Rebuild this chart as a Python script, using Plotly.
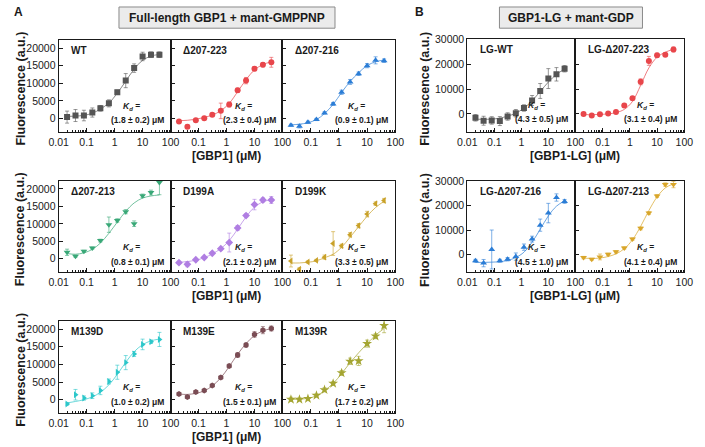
import plotly.graph_objects as go

# --- Data ---
CONC = [0.02, 0.04, 0.08, 0.16, 0.31, 0.625, 1.25, 2.5, 5, 10, 20, 40]

# Panel A: full-length GBP1 + mant-GMPPNP
WT_Y = [400, 850, 850, 1700, 2900, 4300, 7450, 10750, 14300, 17600, 18100, 18100]
WT_ERR = [1700, 1700, 1500, 1300, 800, 1000, 600, 2000, 1200, 1200, 800, 800]
WT_FIT = [600, 700, 900, 1500, 2700, 4400, 7200, 10600, 14000, 16500, 17700, 18200]

D223_Y = [-850, -2350, -470, 100, 1040, 2170, 3960, 8000, 10750, 14150, 15280, 15950]
D223_ERR = [500, 500, 400, 400, 400, 2200, 700, 600, 900, 600, 600, 1400]
D223_FIT = [-600, -500, -200, 300, 1000, 2200, 4300, 7600, 11000, 13800, 15300, 16100]

D216_Y = [-1900, -2170, -1040, -280, 1600, 4150, 7450, 10380, 12700, 15000, 16500, 16400]
D216_ERR = [300, 500, 300, 300, 300, 400, 600, 700, 500, 600, 1000, 500]
D216_FIT = [-1800, -1600, -1200, -300, 1400, 4000, 7400, 10500, 13000, 15000, 16100, 16600]

D213_Y = [1860, 740, 2140, 3070, 5210, 9770, 10980, 13490, 10050, 18050, 18980, 21860]
D213_ERR = [900, 300, 300, 300, 400, 2200, 500, 600, 800, 500, 700, 3500]
D213_FIT = [1500, 1300, 1700, 2700, 4500, 7300, 10500, 13600, 16000, 17400, 18000, 18300]

D199A_Y = [-1120, -1580, -280, 370, 1580, 2880, 4650, 8840, 12370, 15530, 16840, 16840]
D199A_ERR = [400, 700, 300, 300, 400, 400, 2700, 700, 500, 1500, 600, 1000]
D199A_FIT = [-1000, -800, -400, 300, 1400, 2900, 5200, 8500, 12000, 14800, 16300, 17000]

D199K_Y = [-650, -2980, -930, -470, 470, 4370, 3700, 6900, 9500, 12800, 15800, 16700]
D199K_ERR = [1700, 400, 300, 300, 600, 3400, 500, 600, 600, 800, 500, 600]
D199K_FIT = [-1200, -1200, -1000, -600, 300, 1300, 3300, 6200, 9200, 12200, 14700, 16500]

M139D_Y = [-1220, 1410, 470, 1130, 2630, 5160, 7790, 10520, 12960, 15680, 16430, 17090]
M139D_ERR = [300, 1500, 600, 800, 1200, 700, 2000, 2000, 700, 1500, 500, 2000]
M139D_FIT = [-900, -500, 0, 800, 2100, 4200, 7200, 10600, 13600, 15600, 16700, 17200]

M139E_Y = [1600, 750, 2160, 2630, 4040, 6290, 9580, 12680, 15490, 18500, 19720, 20190]
M139E_ERR = [300, 300, 400, 300, 300, 400, 500, 700, 600, 800, 1000, 700]
M139E_FIT = [1600, 1500, 1800, 2500, 3900, 6200, 9400, 12900, 15900, 18200, 19500, 20200]

M139R_Y = [90, 90, 280, 1220, 2800, 4600, 7600, 10900, 11000, 15900, 18000, 21000]
M139R_ERR = [600, 400, 300, 400, 600, 500, 700, 900, 1300, 1000, 700, 2000]
M139R_FIT = [100, 150, 400, 1100, 2600, 4600, 7400, 10500, 13300, 15900, 18300, 20200]

# Panel B: GBP1-LG + mant-GDP
LGWT_Y = [-1580, -2760, -2630, -2890, -1050, 260, 2370, 5390, 9210, 14210, 15920, 18160]
LGWT_ERR = [1300, 1800, 1500, 1800, 1500, 1500, 1300, 2000, 3000, 4000, 2700, 1300]
LGWT_FIT = [-2100, -2200, -2100, -1700, -900, 300, 2300, 5300, 9000, 12800, 15900, 18000]

LG223_Y = [0, -660, -130, 130, 790, 3420, 6320, 12890, 21320, 23550, 23820, 25920]
LG223_ERR = [400, 400, 400, 400, 400, 600, 600, 1200, 1800, 800, 500, 1000]
LG223_FIT = [-300, -300, -200, 0, 500, 1800, 5000, 11500, 18500, 22800, 24800, 26000]

LG216_Y = [-2640, -3600, 2000, -2640, -2000, -920, 2960, 6280, 12000, 16960, 23360, 21760]
LG216_ERR = [600, 1500, 8000, 600, 700, 1500, 1300, 1200, 2500, 4000, 1500, 800]
LG216_FIT = [-3300, -3300, -3200, -3000, -2500, -1300, 900, 5000, 10300, 15800, 19800, 22000]

LG213_Y = [-1330, -2000, -1060, 0, 1060, 2660, 6280, 10680, 16960, 24000, 28680, 28680]
LG213_ERR = [500, 400, 1200, 500, 500, 500, 500, 600, 600, 600, 700, 1300]
LG213_FIT = [-1500, -1700, -1500, -900, 200, 2300, 6000, 11500, 18000, 23600, 27300, 29000]

NAMES = ["WT", "Δ207-223", "Δ207-216", "Δ207-213", "D199A", "D199K",
         "M139D", "M139E", "M139R",
         "LG-WT", "LG-Δ207-223", "LG-Δ207-216", "LG-Δ207-213"]
KD_TEXT = ["(1.8 ± 0.2) μM", "(2.3 ± 0.4) μM", "(0.9 ± 0.1) μM", "(0.8 ± 0.1) μM",
           "(2.1 ± 0.2) μM", "(3.3 ± 0.5) μM", "(1.0 ± 0.2) μM", "(1.5 ± 0.1) μM",
           "(1.7 ± 0.2) μM", "(4.3 ± 0.5) μM", "(3.1 ± 0.4) μM", "(4.5 ± 1.0) μM",
           "(4.1 ± 0.4) μM"]
Y_DATA = [WT_Y, D223_Y, D216_Y, D213_Y, D199A_Y, D199K_Y, M139D_Y, M139E_Y, M139R_Y,
          LGWT_Y, LG223_Y, LG216_Y, LG213_Y]
ERR_DATA = [WT_ERR, D223_ERR, D216_ERR, D213_ERR, D199A_ERR, D199K_ERR, M139D_ERR,
            M139E_ERR, M139R_ERR, LGWT_ERR, LG223_ERR, LG216_ERR, LG213_ERR]
FIT_DATA = [WT_FIT, D223_FIT, D216_FIT, D213_FIT, D199A_FIT, D199K_FIT, M139D_FIT,
            M139E_FIT, M139R_FIT, LGWT_FIT, LG223_FIT, LG216_FIT, LG213_FIT]

# --- Styles ---
COLORS = ["#555555", "#e8464b", "#2b7dd6", "#39a877", "#b07ee2", "#c9a128",
          "#2cc7ca", "#7a4c54", "#a4a532", "#555555", "#e8464b", "#2b7dd6", "#d9a62a"]
SYMBOLS = ["square", "circle", "triangle-up", "triangle-down", "diamond", "triangle-left",
           "triangle-right", "hexagon", "star", "square", "circle", "triangle-up",
           "triangle-down"]

W, H = 705, 447
A_COLS = [(50, 165), (165, 280), (280, 396)]
A_ROWS = [(34, 128), (177, 270), (319, 413)]
B_COLS = [(470, 581), (581, 693)]
B_ROWS = [(33, 128), (177, 270)]

# cells: (col px, row px, group, first column?)
cells = []
for r in A_ROWS:
    for ci, c in enumerate(A_COLS):
        cells.append((c, r, "A", ci == 0))
for r in B_ROWS:
    for ci, c in enumerate(B_COLS):
        cells.append((c, r, "B", ci == 0))

FONT = "Arial, 'Liberation Sans', Helvetica, sans-serif"
INK = "#1a1a1a"


def rgba(hx, a):
    hx = hx.lstrip("#")
    r, g, b = int(hx[0:2], 16), int(hx[2:4], 16), int(hx[4:6], 16)
    return f"rgba({r},{g},{b},{a})"


def fx(x):
    return x / W


def fy(y):
    return 1 - y / H


minor_vals = [m * 10 ** e for e in range(-2, 2) for m in range(2, 10)]

fig = go.Figure()
layout = dict(
    width=W, height=H,
    margin=dict(l=0, r=0, t=0, b=0),
    paper_bgcolor="white", plot_bgcolor="white",
    showlegend=False,
    font=dict(family=FONT, color=INK),
)
annotations = []
shapes = []

for i, ((x0, x1), (y0, y1), grp, first) in enumerate(cells):
    n = i + 1
    xa = "x" if n == 1 else f"x{n}"
    ya = "y" if n == 1 else f"y{n}"
    col = COLORS[i]

    fig.add_trace(go.Scatter(
        x=CONC, y=FIT_DATA[i], mode="lines", line_shape="spline",
        line=dict(color=rgba(col, 0.7), width=1), xaxis=xa, yaxis=ya,
        hoverinfo="skip"))
    fig.add_trace(go.Scatter(
        x=CONC, y=Y_DATA[i], mode="markers", xaxis=xa, yaxis=ya,
        marker=dict(symbol=SYMBOLS[i], color=col, size=6 if SYMBOLS[i] != "star" else 7.5,
                    line=dict(width=0)),
        error_y=dict(type="data", array=ERR_DATA[i], color=rgba(col, 0.6),
                     thickness=1, width=2)))

    if first:
        tv, tt = [0.01, 0.1, 1, 10, 100], ["0.01", "0.1", "1", "10", "100"]
    else:
        tv, tt = [0.1, 1, 10, 100], ["0.1", "1", "10", "100"]
    layout["xaxis" if n == 1 else f"xaxis{n}"] = dict(
        domain=[fx(x0), fx(x1)], anchor=ya, type="log", range=[-2, 2],
        tickmode="array", tickvals=tv, ticktext=tt,
        ticks="inside", ticklen=4, tickcolor=INK, tickwidth=1,
        tickfont=dict(size=10.5, color=INK),
        minor=dict(tickmode="array", tickvals=minor_vals, ticks="inside",
                   ticklen=2, tickcolor=INK, tickwidth=1),
        showline=True, linecolor=INK, linewidth=1, mirror=True,
        showgrid=False, zeroline=False, fixedrange=True)
    if grp == "A":
        yr, dt = [-3900, 22400], 5000
    else:
        yr, dt = [-7400, 30300], 10000
    layout["yaxis" if n == 1 else f"yaxis{n}"] = dict(
        domain=[fy(y1), fy(y0)], anchor=xa, range=yr, dtick=dt, tick0=0,
        tickformat="d",
        ticks="inside", ticklen=4, tickcolor=INK, tickwidth=1,
        showticklabels=first, tickfont=dict(size=10.5, color=INK),
        showline=True, linecolor=INK, linewidth=1, mirror=True,
        showgrid=False, zeroline=False, fixedrange=True)

    # panel label, top-left
    annotations.append(dict(
        text=f"<b>{NAMES[i]}</b>", xref="paper", yref="paper",
        x=fx(x0 + 11), y=fy(y0 + 11), xanchor="left", yanchor="middle",
        showarrow=False, font=dict(size=10, color=INK)))
    # Kd, bottom-right
    annotations.append(dict(
        text="<b><i>K<sub>d</sub></i> =</b>", xref="paper", yref="paper",
        x=fx(x1 - 40), y=fy(y0 + 68), xanchor="center", yanchor="middle",
        showarrow=False, font=dict(size=8.5, color=INK)))
    annotations.append(dict(
        text=f"<b>{KD_TEXT[i]}</b>", xref="paper", yref="paper",
        x=fx(x1 - 5), y=fy(y0 + 82), xanchor="right", yanchor="middle",
        showarrow=False, font=dict(size=8.5, color=INK)))

# axis titles
for (y0, y1) in A_ROWS:
    annotations.append(dict(
        text="<b>Fluorescence (a.u.)</b>", xref="paper", yref="paper",
        x=fx(11), y=fy((y0 + y1) / 2 + 3), textangle=-90, showarrow=False,
        xanchor="center", yanchor="middle", font=dict(size=12.5, color=INK)))
    annotations.append(dict(
        text="<b>[GBP1] (μM)</b>", xref="paper", yref="paper",
        x=fx(223), y=fy(y1 + 24), showarrow=False,
        xanchor="center", yanchor="middle", font=dict(size=12, color=INK)))
for (y0, y1) in B_ROWS:
    annotations.append(dict(
        text="<b>Fluorescence (a.u.)</b>", xref="paper", yref="paper",
        x=fx(427), y=fy((y0 + y1) / 2 + 3), textangle=-90, showarrow=False,
        xanchor="center", yanchor="middle", font=dict(size=12.5, color=INK)))
    annotations.append(dict(
        text="<b>[GBP1-LG] (μM)</b>", xref="paper", yref="paper",
        x=fx(581), y=fy(y1 + 24), showarrow=False,
        xanchor="center", yanchor="middle", font=dict(size=12, color=INK)))

# boxed headers and panel letters
for (bx0, bx1, text) in [(112, 334, "Full-length GBP1 + mant-GMPPNP"),
                         (503, 650, "GBP1-LG + mant-GDP")]:
    shapes.append(dict(type="rect", xref="paper", yref="paper",
                       x0=fx(bx0), x1=fx(bx1), y0=fy(22.5), y1=fy(1),
                       fillcolor="#ebebeb", line=dict(color="#8a8a8a", width=1)))
    annotations.append(dict(
        text=f"<b>{text}</b>", xref="paper", yref="paper",
        x=fx((bx0 + bx1) / 2), y=fy(12), showarrow=False,
        xanchor="center", yanchor="middle", font=dict(size=12, color=INK)))
for (lx, letter) in [(2, "A"), (414, "B")]:
    annotations.append(dict(
        text=f"<b>{letter}</b>", xref="paper", yref="paper",
        x=fx(lx), y=fy(6), showarrow=False,
        xanchor="left", yanchor="middle", font=dict(size=12, color=INK)))

layout["annotations"] = annotations
layout["shapes"] = shapes
fig.update_layout(**layout)

# drop the browser's default body margin so the figure sits at (0, 0)
fig.write_html("out.html", config={"displayModeBar": False},
               post_script="document.body.style.margin='0';")
